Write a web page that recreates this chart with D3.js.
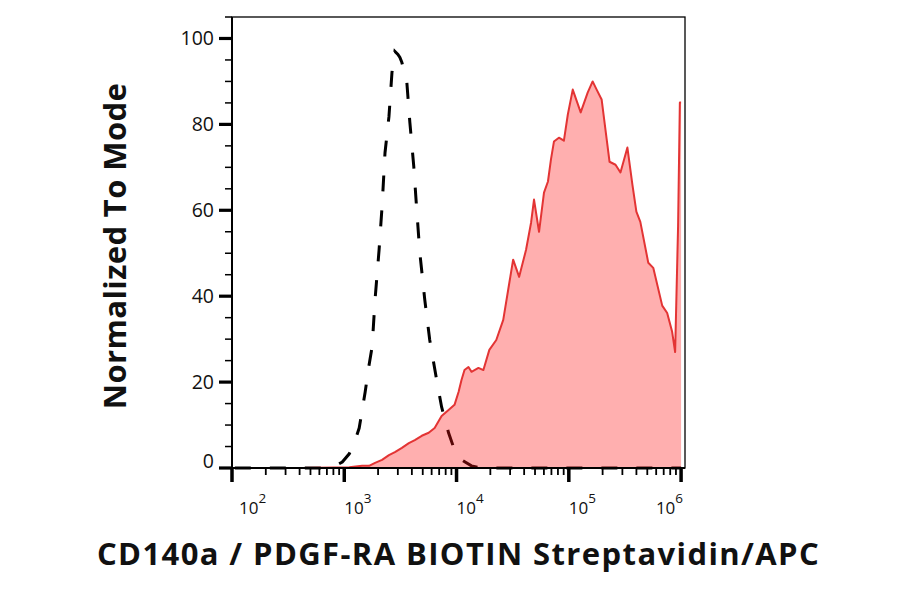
<!DOCTYPE html>
<html>
<head>
<meta charset="utf-8">
<script src="https://cdn.jsdelivr.net/npm/d3@7"></script>
<style>
  body { margin: 0; background: #fff; }
  svg { display: block; font-family: "Open Sans", "Noto Sans", sans-serif; }
</style>
</head>
<body>
<div id="chart"></div>
<script>
// stained sample (red, filled) : intensity / % of mode
const stainX = [106, 425, 1107, 1442, 1663, 1880, 2170, 2500, 2825, 3260, 3760, 4250, 4900, 5650,
  6380, 7360, 8490, 9590, 10420, 11070, 11770, 12770, 13580, 15670, 17340, 19590, 22590, 26060,
  28840, 31920, 36110, 41600, 46100, 48980, 54300, 60100, 65200, 69300, 73700, 81600, 90400,
  98000, 108400, 127600, 147200, 163000, 177000, 196000, 212000, 230500, 260600, 288400, 332600,
  368400, 399700, 433500, 510200, 565100, 679000, 751800, 832500, 885000, 940000, 975000, 1000000];
const stainY = [0, 0, 0.2, 0.5, 0.5, 1.2, 1.9, 3.0, 3.7, 4.7, 5.8, 6.5, 7.5, 8.2,
  9.3, 12.1, 13.5, 14.7, 17.7, 20.5, 22.8, 23.5, 22.4, 23.3, 22.8, 27.5, 29.8, 34.5,
  41.5, 48.5, 44.5, 50.8, 57.1, 62.5, 55.0, 64.1, 66.7, 71.8, 76.0, 76.9, 76.2,
  82.3, 88.1, 82.8, 87.4, 90.0, 88.1, 85.8, 78.8, 71.3, 70.6, 68.8, 74.6,
  66.0, 59.7, 57.3, 47.8, 46.6, 37.8, 36.1, 31.7, 27.0, 56.2, 85.1, 85.1];

// unstained control (black, dashed)
const ctrlX = [106, 638, 832, 960, 1107, 1251, 1358, 1535, 1663, 1770, 1880, 2042, 2170, 2306,
  2500, 2660, 2825, 3005, 3130, 3260, 3610, 3840, 4160, 4420, 4710, 5210, 5770, 6650, 7360,
  8490, 9590, 11070, 13580, 16640, 1000000];
const ctrlY = [0, 0, 0.5, 1.4, 3.3, 6.5, 9.3, 17.7, 24.0, 28.2, 39.2, 50.8, 60.8, 73.4,
  81.8, 92.1, 97.0, 96.3, 95.6, 94.4, 89.7, 80.4, 70.2, 60.1, 50.1, 39.2, 29.8, 20.5, 14.2,
  8.2, 4.2, 1.9, 0.5, 0, 0];

const yTicks = [0, 20, 40, 60, 80, 100];
const xDecades = [2, 3, 4, 5, 6];
const xTitle = 'CD140a / PDGF-RA BIOTIN Streptavidin/APC';
const yTitle = 'Normalized To Mode';

const W = 900, H = 594;
const margin = { top: 17, left: 232 };
const width = 451, height = 451;

const svg = d3.select('#chart').append('svg')
  .attr('width', W).attr('height', H);
const g = svg.append('g')
  .attr('transform', 'translate(' + margin.left + ',' + margin.top + ')');

const x = d3.scaleLog().domain([100, 1.04e6]).range([0, width]);
const y = d3.scaleLinear().domain([0, 105]).range([height, 0]);

const stain = stainX.map(function(v, i) { return { x: v, y: stainY[i] }; });
const ctrl = ctrlX.map(function(v, i) { return { x: v, y: ctrlY[i] }; });

// control first, red fill is see-through over it
g.append('path')
  .datum(ctrl)
  .attr('fill', 'none')
  .attr('stroke', '#000')
  .attr('stroke-width', 3)
  .attr('stroke-dasharray', '16,19')
  .attr('d', d3.line().x(function(d) { return x(d.x); }).y(function(d) { return y(d.y); }));

g.append('path')
  .datum(stain)
  .attr('fill', 'rgb(255,20,20)')
  .attr('fill-opacity', 0.34)
  .attr('d', d3.area().x(function(d) { return x(d.x); }).y0(height).y1(function(d) { return y(d.y); }));

g.append('path')
  .datum(stain)
  .attr('fill', 'none')
  .attr('stroke', '#e33434')
  .attr('stroke-width', 2)
  .attr('stroke-linejoin', 'round')
  .attr('d', d3.line().x(function(d) { return x(d.x); }).y(function(d) { return y(d.y); }));

// frame
g.append('rect')
  .attr('x', 0).attr('y', 0)
  .attr('width', width + 2).attr('height', height)
  .attr('fill', 'none').attr('stroke', '#000').attr('stroke-width', 1.3);
g.append('line').attr('x1', 0).attr('x2', 0).attr('y1', 0).attr('y2', height)
  .attr('stroke', '#000').attr('stroke-width', 2);
g.append('line').attr('x1', 0).attr('x2', width + 2).attr('y1', height).attr('y2', height)
  .attr('stroke', '#000').attr('stroke-width', 2);

// y axis
const yMinor = d3.range(0, 106, 5);
g.selectAll('.ymin').data(yMinor).enter().append('line')
  .attr('class', 'ymin')
  .attr('x1', -7).attr('x2', 0)
  .attr('y1', function(d) { return y(d); }).attr('y2', function(d) { return y(d); })
  .attr('stroke', '#000').attr('stroke-width', 1.5);
g.selectAll('.ymaj').data(yTicks).enter().append('line')
  .attr('class', 'ymaj')
  .attr('x1', -13).attr('x2', 0)
  .attr('y1', function(d) { return y(d); }).attr('y2', function(d) { return y(d); })
  .attr('stroke', '#000').attr('stroke-width', 3.2);
g.selectAll('.ylab').data(yTicks).enter().append('text')
  .attr('class', 'ylab')
  .attr('x', -18)
  .attr('y', function(d) { return y(d) + (d === 0 ? -7 : 0); })
  .attr('dy', '0.36em')
  .attr('text-anchor', 'end')
  .attr('font-size', 19.5)
  .attr('fill', '#111')
  .text(function(d) { return d; });

// x axis (log)
const xMinor = [];
xDecades.forEach(function(e) {
  if (e < 6) d3.range(2, 10).forEach(function(m) { xMinor.push(m * Math.pow(10, e)); });
});
g.selectAll('.xmin').data(xMinor).enter().append('line')
  .attr('class', 'xmin')
  .attr('x1', function(d) { return x(d); }).attr('x2', function(d) { return x(d); })
  .attr('y1', height).attr('y2', height + 7)
  .attr('stroke', '#000').attr('stroke-width', 1.8);
g.selectAll('.xmaj').data(xDecades).enter().append('line')
  .attr('class', 'xmaj')
  .attr('x1', function(d) { return x(Math.pow(10, d)); }).attr('x2', function(d) { return x(Math.pow(10, d)); })
  .attr('y1', height).attr('y2', height + 14)
  .attr('stroke', '#000').attr('stroke-width', 3.5);
const xlab = g.selectAll('.xlab').data(xDecades).enter().append('text')
  .attr('class', 'xlab')
  .attr('x', function(d, i) { return x(Math.pow(10, d)) + (i === 0 ? 7 : 0) + (i === xDecades.length - 1 ? 2 : 0); })
  .attr('y', height + 46)
  .attr('text-anchor', function(d, i) { return i === xDecades.length - 1 ? 'end' : 'start'; })
  .attr('font-size', 17)
  .attr('fill', '#111');
xlab.append('tspan').text('10');
xlab.append('tspan').attr('dy', -11).attr('font-size', 13.5).text(function(d) { return d; });

// titles
svg.append('text')
  .attr('x', margin.left + width / 2 + 1)
  .attr('y', 565)
  .attr('text-anchor', 'middle')
  .attr('font-size', 31)
  .attr('font-weight', 'bold')
  .attr('letter-spacing', 1.4)
  .attr('fill', '#111')
  .text(xTitle);
svg.append('text')
  .attr('transform', 'translate(126,' + 246 + ') rotate(-90)')
  .attr('text-anchor', 'middle')
  .attr('font-size', 31)
  .attr('font-weight', 'bold')
  .attr('letter-spacing', 0.4)
  .attr('fill', '#111')
  .text(yTitle);
</script>
</body>
</html>
